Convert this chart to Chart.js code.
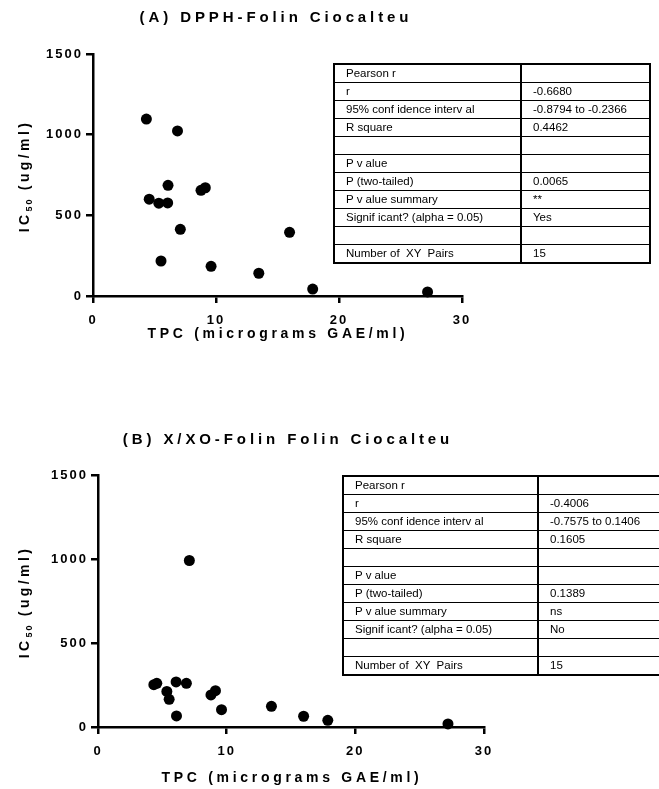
<!DOCTYPE html>
<html>
<head>
<meta charset="utf-8">
<script src="https://cdn.jsdelivr.net/npm/chart.js@4"></script>
<style>
  body { margin: 0; background: #fff; width: 659px; height: 789px; overflow: hidden; position: relative; font-family: "Liberation Sans", Arial, sans-serif; }
  .plot { position: absolute; left: 0; }
  .title, .xtitle, .ytitle { position: absolute; font-weight: bold; color: #000; white-space: nowrap; transform: translate(-50%, -50%); }
  .title { font-size: 15px; letter-spacing: 3.9px; }
  .xtitle { font-size: 14px; letter-spacing: 3.7px; }
  .ytitle { font-size: 14px; letter-spacing: 3.4px; transform: translate(-50%, -50%) rotate(-90deg); }
  .ytitle sub { font-size: 9px; letter-spacing: 2px; vertical-align: -3px; }
  table.stats { position: absolute; border-collapse: collapse; table-layout: fixed; border: 2px solid #000; font-size: 11.5px; color: #000; }
  table.stats td { border: 1px solid #000; height: 16px; padding: 0 0 1px 11px; line-height: 14px; white-space: pre; overflow: hidden; }
  table.stats td.val { border-left: 2px solid #000; }
</style>
</head>
<body>
<canvas id="chart-a" class="plot" style="top:0"></canvas>
<canvas id="chart-b" class="plot" style="top:400px"></canvas>

<div class="title" style="left:276px; top:16px">(A) DPPH-Folin Ciocalteu</div>
<div class="title" style="left:288px; top:438px">(B) X/XO-Folin Folin Ciocalteu</div>
<div class="xtitle" style="left:278px; top:333px">TPC (micrograms GAE/ml)</div>
<div class="xtitle" style="left:292px; top:777px">TPC (micrograms GAE/ml)</div>
<div class="ytitle" style="left:25px; top:176px">IC<sub>50</sub> (ug/ml)</div>
<div class="ytitle" style="left:25px; top:602px">IC<sub>50</sub> (ug/ml)</div>

<table id="table-a" class="stats" style="left:333px; top:63px; width:318px"></table>
<table id="table-b" class="stats" style="left:342px; top:475px; width:319px"></table>

<script>
// TPC (x) shared by both panels, IC50
const tpc = [4.34, 4.57, 5.35, 5.53, 6.07, 6.1, 6.87, 7.1, 8.78, 9.13, 9.6, 13.48, 15.98, 17.86, 27.2];
const dpphIC50 = [1097, 600, 575, 217, 577, 686, 1023, 413, 655, 671, 184, 141, 395, 43, 25];
const xxoIC50 = [252, 260, 212, 165, 268, 66, 260, 991, 191, 216, 103, 123, 64, 40, 18];

const xTicks = [0, 10, 20, 30];
const yTicks = [0, 500, 1000, 1500];

const statLabels = ["Pearson r", "r", "95% conf idence interv al", "R square", "", "P v alue",
  "P (two-tailed)", "P v alue summary", "Signif icant? (alpha = 0.05)", "", "Number of  XY  Pairs"];
const statsA = ["", "-0.6680", "-0.8794 to -0.2366", "0.4462", "", "", "0.0065", "**", "Yes", "", "15"];
const statsB = ["", "-0.4006", "-0.7575 to 0.1406", "0.1605", "", "", "0.1389", "ns", "No", "", "15"];

const tickFont = { family: "'Liberation Sans', Arial, sans-serif", size: 13, weight: "bold" };

// canvas text has no css letter-spacing, so set it on the context
const spacedText = {
  id: "spacedText",
  beforeDraw: (chart) => {
    chart.ctx.letterSpacing = "2px";
  },
};

makeScatter = (canvasId, ys, box) => {
  const canvas = document.getElementById(canvasId);
  canvas.width = 659;
  canvas.height = box.h;
  canvas.style.width = "659px";
  canvas.style.height = box.h + "px";

  return new Chart(canvas.getContext("2d"), {
    type: "scatter",
    data: {
      datasets: [{
        data: tpc.map((x, i) => ({ x: x, y: ys[i] })),
        backgroundColor: "#000",
        borderWidth: 0,
        pointRadius: 5.5,
        pointHoverRadius: 5.5,
        clip: false,
      }],
    },
    options: {
      responsive: false,
      animation: false,
      events: [],
      layout: { padding: { left: 0, top: box.top, right: 659 - box.right, bottom: 0 } },
      plugins: { legend: { display: false }, tooltip: { enabled: false } },
      scales: {
        x: {
          type: "linear",
          min: 0,
          max: 30,
          afterBuildTicks: (scale) => { scale.ticks = xTicks.map((v) => ({ value: v })); },
          afterFit: (scale) => { scale.height = box.h - box.bottom; },
          border: { display: true, color: "#000", width: 2.5 },
          grid: { drawOnChartArea: false, drawTicks: true, tickLength: 7, color: "#000", lineWidth: 2.5 },
          ticks: { color: "#000", font: tickFont, padding: 10, maxRotation: 0, callback: (v) => String(v) },
        },
        y: {
          type: "linear",
          min: 0,
          max: 1500,
          afterBuildTicks: (scale) => { scale.ticks = yTicks.map((v) => ({ value: v })); },
          afterFit: (scale) => { scale.width = box.left; },
          border: { display: true, color: "#000", width: 2.5 },
          grid: { drawOnChartArea: false, drawTicks: true, tickLength: 7, color: "#000", lineWidth: 2.5 },
          ticks: { color: "#000", font: tickFont, padding: 3, callback: (v) => String(v) },
        },
      },
    },
    plugins: [spacedText],
  });
};

fillTable = (tableId, values, leftWidth, rowH) => {
  const table = document.getElementById(tableId);
  table.innerHTML = '<colgroup><col style="width:' + leftWidth + 'px"><col></colgroup>';
  statLabels.forEach((label, i) => {
    const row = document.createElement("tr");
    row.style.height = rowH + "px";
    const a = document.createElement("td");
    a.textContent = label;
    const b = document.createElement("td");
    b.className = "val";
    b.textContent = values[i];
    row.appendChild(a);
    row.appendChild(b);
    table.appendChild(row);
  });
};

makeScatter("chart-a", dpphIC50, { h: 400, left: 93, right: 462, top: 54, bottom: 296 });
makeScatter("chart-b", xxoIC50, { h: 389, left: 98, right: 484, top: 75, bottom: 327 });

fillTable("table-a", statsA, 187, 18);
fillTable("table-b", statsB, 195, 18);
</script>
</body>
</html>
